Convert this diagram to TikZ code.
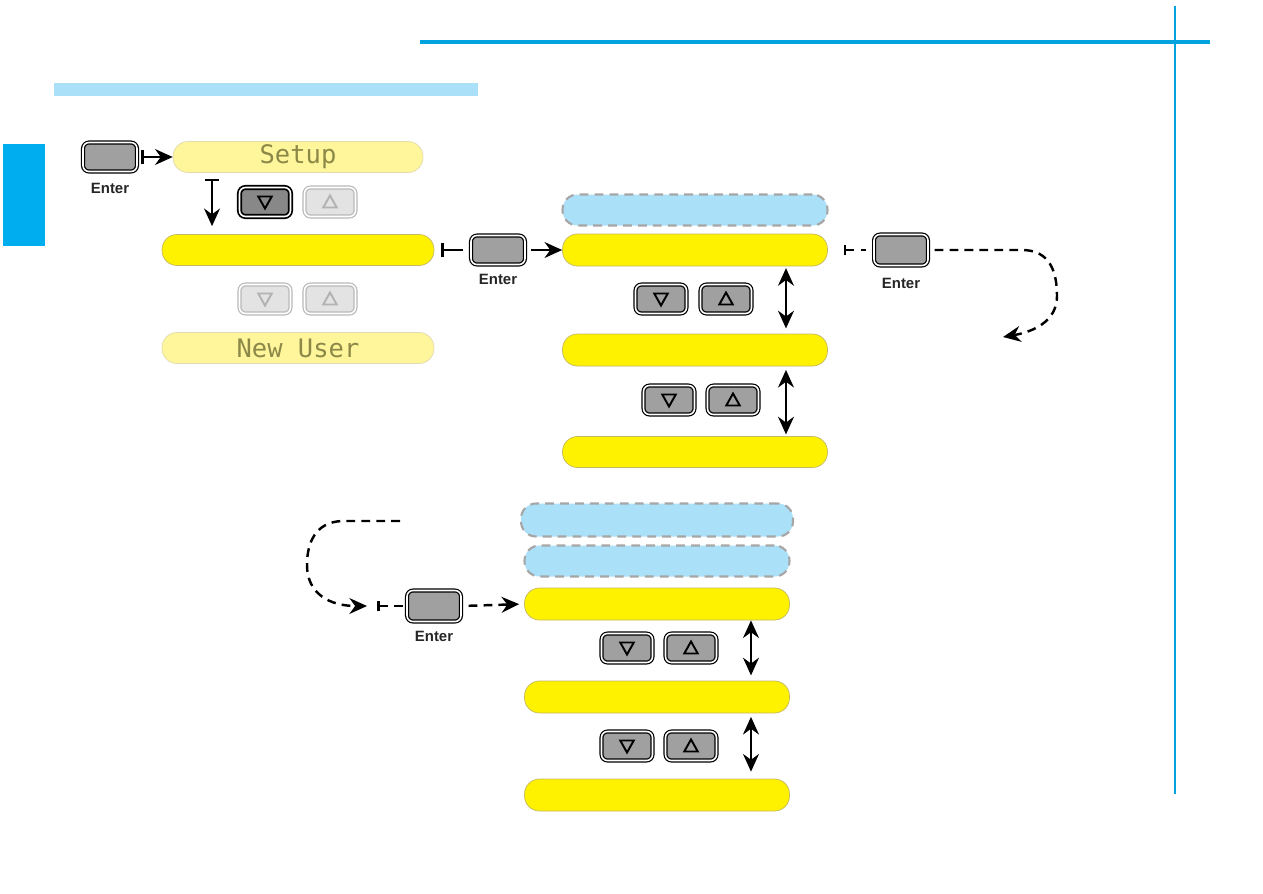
\documentclass[tikz,border=0pt]{standalone}
\usepackage{fontspec}
\setsansfont{Liberation Sans}
\newfontfamily\lcdfont{DejaVu Sans Mono}
\usetikzlibrary{arrows.meta}
\definecolor{cyanline}{RGB}{0,163,221}
\definecolor{tabblue}{RGB}{0,174,239}
\definecolor{paleblue}{RGB}{171,224,249}
\definecolor{lcdyellow}{RGB}{255,242,0}
\definecolor{paleyellow}{RGB}{255,246,155}
\definecolor{pilledge}{RGB}{196,184,96}
\definecolor{lcdtext}{RGB}{140,136,72}
\definecolor{keygray}{RGB}{160,160,160}

\begin{document}
\begin{tikzpicture}[x=0.02cm,y=-0.02cm,
  pill/.style={rectangle,rounded corners=0.3cm,minimum width=5.3cm,minimum height=0.62cm,inner sep=0pt,draw=pilledge,line width=0.4pt,fill=lcdyellow},
  dimpill/.style={pill,fill=paleyellow,draw=pilledge!50,text=lcdtext,font=\lcdfont\fontsize{14.5}{14.5}\selectfont},
  ghostpill/.style={pill,fill=paleblue,draw=gray!70,line width=1.2pt,dash pattern=on 5pt off 3.5pt},
  key/.style={rectangle,rounded corners=0.12cm,minimum width=1.02cm,minimum height=0.58cm,inner sep=0pt,fill=keygray,draw=black,line width=0.7pt,double=white,double distance=0.9pt},
  offkey/.style={key,fill=gray!22,draw=gray!55},
  downkey/.style={key,path picture={\draw[sharp corners,line width=1.1pt,line join=miter,#1]
    ([xshift=-0.135cm,yshift=0.11cm]path picture bounding box.center) -- ([xshift=0.135cm,yshift=0.11cm]path picture bounding box.center)
    -- ([yshift=-0.13cm]path picture bounding box.center) -- cycle;}},
  downkey/.default=black,
  upkey/.style={key,path picture={\draw[sharp corners,line width=1.1pt,line join=miter,#1]
    ([xshift=-0.135cm,yshift=-0.11cm]path picture bounding box.center) -- ([xshift=0.135cm,yshift=-0.11cm]path picture bounding box.center)
    -- ([yshift=0.13cm]path picture bounding box.center) -- cycle;}},
  upkey/.default=black,
  keylabel/.style={font=\sffamily\bfseries\fontsize{8.5}{8.5}\selectfont,text=black!85},
  arrowline/.style={line width=1.5pt,-{Stealth[length=10pt,width=9pt]}},
  bararrow/.style={line width=1.5pt,{Bar[width=8pt]}-{Stealth[length=10pt,width=9pt]}},
  dashline/.style={line width=1.4pt,dash pattern=on 5pt off 3.5pt},
  updown/.style={line width=1.5pt,{Stealth[length=10pt,width=9pt]}-{Stealth[length=10pt,width=9pt]}}]
\useasboundingbox (0,0) rectangle (1263,893);
\fill[white] (0,0) rectangle (1263,893);
\draw[cyanline,line width=1.8pt] (420,42) -- (1210,42);
\draw[cyanline,line width=1.5pt] (1175,6) -- (1175,794);
\fill[paleblue] (54,83) rectangle (478,96);
\fill[tabblue] (3,144) rectangle (45,246);

\node[key,minimum width=1.08cm] (ent1) at (110,157) {};
\node[keylabel] at (110,188) {Enter};
\node[dimpill,minimum width=5cm] (setup) at (298,157) {Setup};
\node[downkey,fill=keygray!85!black,line width=1pt] (dnA) at (265,202) {};
\node[upkey=gray!60,offkey] (upA) at (330,202) {};
\node[pill,minimum width=5.44cm] (item) at (298,250) {};
\node[downkey=gray!60,offkey] (dnB) at (265,299) {};
\node[upkey=gray!60,offkey] (upB) at (330,299) {};
\node[dimpill,minimum width=5.44cm] (newuser) at (298,348) {New User};
\draw[bararrow,shorten <=2pt] (ent1.east) -- (setup.west);
\draw[bararrow] ([xshift=-1.72cm,yshift=-0.12cm]setup.south) -- ([xshift=-1.72cm,yshift=0.16cm]item.north);

\node[ghostpill] (sel) at (695,210) {};
\node[pill,minimum height=0.64cm] (opt1) at (695,250) {};
\node[downkey] (dnC) at (661,299) {};
\node[upkey] (upC) at (726,299) {};
\node[pill,minimum height=0.64cm] (opt2) at (695,350) {};
\node[downkey] (dnD) at (669,400) {};
\node[upkey] (upD) at (733,400) {};
\node[pill] (opt3) at (695,452) {};
\draw[updown,shorten <=1pt,shorten >=3pt] ([xshift=1.82cm]opt1.south) -- ([xshift=1.82cm]opt2.north);
\draw[updown,shorten <=2pt,shorten >=1pt] ([xshift=1.82cm]opt2.south) -- ([xshift=1.82cm]opt3.north);

\node[key,minimum width=1.08cm] (ent2) at (498,250) {};
\node[keylabel] at (498,279) {Enter};
\draw[line width=1.5pt,{Bar[width=8pt]}-,shorten <=0.14cm,shorten >=0.14cm] (item.east) -- (ent2.west);
\draw[arrowline,shorten <=0.1cm] (ent2.east) -- (opt1.west);

\node[key,minimum width=1.08cm,minimum height=0.62cm] (ent3) at (901,250) {};
\node[keylabel] at (901,283) {Enter};
\coordinate (loopend) at (1003,337);
\draw[dashline,{Bar[width=6pt]}-,shorten <=0.32cm,shorten >=0.14cm] (opt1.east) -- (ent3.west);
\draw[dashline,-{Stealth[length=10pt,width=9pt]},shorten <=0.12cm] (ent3.east) -- (1022,250) .. controls (1050,250) and (1057,272) .. (1057,296) .. controls (1057,322) and (1032,332) .. (loopend);

\coordinate (loopstart) at (400,521);
\node[key,minimum width=1.08cm,minimum height=0.62cm] (ent4) at (434,606) {};
\node[keylabel] at (434,636) {Enter};
\draw[dashline,-{Stealth[length=10pt,width=9pt]}] (loopstart) -- (342,521) .. controls (316,522) and (307,542) .. (307,565) .. controls (307,594) and (330,606) .. (367,606);
\draw[dashline,{Bar[width=6pt]}-,shorten <=0.58cm,shorten >=0.04cm] (ent4.west) ++(-58,0) -- (ent4.west);

\node[ghostpill,minimum width=5.44cm,minimum height=0.66cm] (hint1) at (657,520) {};
\node[ghostpill] (hint2) at (657,561) {};
\node[pill,minimum height=0.64cm] (val1) at (657,604) {};
\node[downkey] (dnE) at (627,648) {};
\node[upkey] (upE) at (691,648) {};
\node[pill,minimum height=0.64cm] (val2) at (657,697) {};
\node[downkey] (dnF) at (627,746) {};
\node[upkey] (upF) at (691,746) {};
\node[pill,minimum height=0.64cm] (val3) at (657,795) {};
\draw[dashline,-{Stealth[length=10pt,width=9pt]},shorten <=0.14cm,shorten >=0.1cm] (ent4.east) -- (val1.west);
\draw[updown,shorten <=0pt,shorten >=3pt] ([xshift=1.88cm]val1.south) -- ([xshift=1.88cm]val2.north);
\draw[updown,shorten <=2pt,shorten >=4pt] ([xshift=1.88cm]val2.south) -- ([xshift=1.88cm]val3.north);
\end{tikzpicture}
\end{document}
